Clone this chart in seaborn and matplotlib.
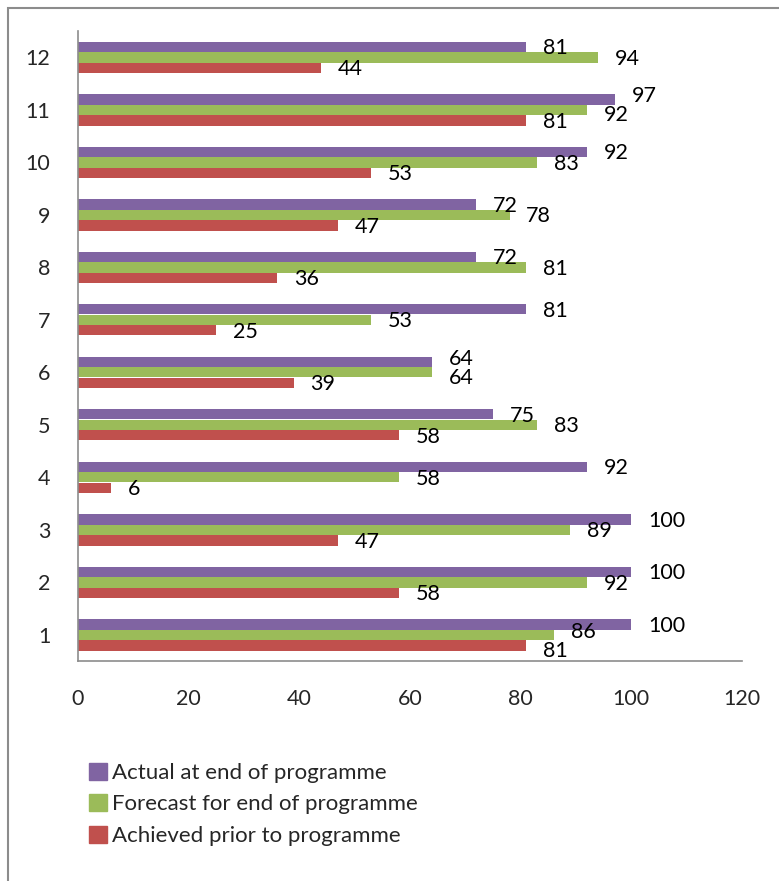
import matplotlib
matplotlib.use("Agg")
import matplotlib.pyplot as plt
from matplotlib.patches import Rectangle
import seaborn as sns
import pandas as pd

categories = ["1", "2", "3", "4", "5", "6", "7", "8", "9", "10", "11", "12"]
actual = [100, 100, 100, 92, 75, 64, 81, 72, 72, 92, 97, 81]
forecast = [86, 92, 89, 58, 83, 64, 53, 81, 78, 83, 92, 94]
achieved = [81, 58, 47, 6, 58, 39, 25, 36, 47, 53, 81, 44]

series_names = ["Actual at end of programme",
                "Forecast for end of programme",
                "Achieved prior to programme"]
series_values = [actual, forecast, achieved]
colors = ["#8064A2", "#9BBB59", "#C0504D"]
x_ticks = [0, 20, 40, 60, 80, 100, 120]

rows = []
for name, vals in zip(series_names, series_values):
    for cat, v in zip(categories, vals):
        rows.append({"category": cat, "series": name, "value": v})
df = pd.DataFrame(rows)

sns.set_theme(style="white")
plt.rcParams["font.family"] = ["Lato", "DejaVu Sans"]

fig = plt.figure(figsize=(7.79, 8.81), dpi=100)
W, H = 779, 881
ax = fig.add_axes([78 / W, 1 - 661 / H, (742 - 78) / W, (661 - 31) / H])

order = categories[::-1]
sns.barplot(data=df, y="category", x="value", hue="series",
            order=order, hue_order=series_names, palette=colors,
            orient="h", width=0.6, saturation=1, ax=ax, legend=False,
            edgecolor="none")

# value labels just past the end of each bar; labels of neighbouring bars
# with near-equal values are pushed apart vertically
LABEL_SIZE = 15.5
for s, container in enumerate(ax.containers):
    for patch in container:
        v = patch.get_width()
        yc = patch.get_y() + patch.get_height() / 2
        i = categories.index(order[int(round(yc))])
        dy = -1
        if s > 0 and abs(series_values[s - 1][i] - v) <= 5:
            dy -= 3
        if s < 2 and abs(series_values[s + 1][i] - v) <= 5:
            dy += 3
        ax.annotate(f"{v:g}", xy=(v, yc), xytext=(12, dy),
                    textcoords="offset points", ha="left", va="center",
                    fontsize=LABEL_SIZE, color="black")

ax.set_xlim(0, 120)
ax.set_xticks(x_ticks)
ax.set_xticklabels([str(t) for t in x_ticks], fontsize=15.5)
ax.tick_params(axis="y", labelsize=15.5, length=0, pad=20)
ax.tick_params(axis="x", length=0, pad=20)
ax.set_xlabel("")
ax.set_ylabel("")
for side in ["top", "right"]:
    ax.spines[side].set_visible(False)
for side in ["left", "bottom"]:
    ax.spines[side].set_color("#8c8c8c")
    ax.spines[side].set_linewidth(1.2)

# legend
handles = [Rectangle((0, 0), 1, 1, color=c) for c in colors]
fig.legend(handles, series_names, loc="upper left",
           bbox_to_anchor=(80 / W, 1 - 754 / H), frameon=False,
           fontsize=16, handlelength=0.8, handleheight=0.8,
           handletextpad=0.25, labelspacing=0.5, borderaxespad=0)

# chart area border
fig.add_artist(Rectangle((8 / W, -0.05), 1.2, 1 - 8 / H + 0.05,
                         transform=fig.transFigure, fill=False,
                         edgecolor="#8c8c8c", linewidth=1.5))

fig.savefig("out.png", dpi=100)
